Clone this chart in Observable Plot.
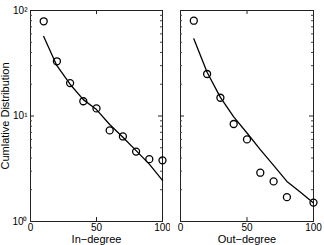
<!DOCTYPE html>
<html><head><meta charset="utf-8">
<script src="https://cdn.jsdelivr.net/npm/d3@7"></script>
<script src="https://cdn.jsdelivr.net/npm/@observablehq/plot@0.6"></script>
<style>
html,body{margin:0;padding:0;background:#fff;}
#wrap{display:flex;width:324px;height:245px;}
svg{display:block;}
</style></head>
<body><div id="wrap"></div>
<script>
const xTicks = [0, 50, 100];
const yTicks = [1, 10, 100];
const yTickLabels = ["10\u2070", "10\u00b9", "10\u00b2"];
const yMinor = [2,3,4,5,6,7,8,9,20,30,40,50,60,70,80,90];

const inDeg = [10,20,30,40,50,60,70,80,90,100];
const inObs = [79,33,20.5,13.8,11.8,7.3,6.4,4.6,3.9,3.8];
const inFitX = [10,20,30,40,50,60,70,80,90,100];
const inFit = [56.7,30,20,14.3,11.5,8.3,6.3,4.7,3.5,2.45];

const outDeg = [10,20,30,40,50,60,70,80,100];
const outObs = [80,25,14.9,8.4,6.0,2.9,2.4,1.7,1.51];
const outFitX = [10,20,30,40,50,60,70,80,90,100];
const outFit = [53.9,26,15,9.8,6.9,4.8,3.4,2.4,1.9,1.5];

const H = 245, MT = 10, MB = 24;
const FH = H - MT - MB;

function panel({width, marginLeft, marginRight, xs, ys, fx, fy, xLabel, showY}) {
  const FW = width - marginLeft - marginRight;
  const obs = xs.map((x, i) => ({x, y: ys[i]}));
  const fit = fx.map((x, i) => ({x, y: fy[i]}));
  const marks = [
    Plot.frame({stroke: "#222", strokeWidth: 1}),
    Plot.tickX(xTicks, {x: d => d, insetTop: FH - 4, stroke: "#222"}),
    Plot.tickX(xTicks, {x: d => d, insetBottom: FH - 4, stroke: "#222"}),
    Plot.tickY(yTicks, {y: d => d, insetRight: FW - 4, stroke: "#222"}),
    Plot.tickY(yTicks, {y: d => d, insetLeft: FW - 4, stroke: "#222"}),
    Plot.tickY(yMinor, {y: d => d, insetRight: FW - 2, stroke: "#444"}),
    Plot.tickY(yMinor, {y: d => d, insetLeft: FW - 2, stroke: "#444"}),
    Plot.line(fit, {x: "x", y: "y", stroke: "#000", strokeWidth: 1.3}),
    Plot.dot(obs, {x: "x", y: "y", r: 3.5, stroke: "#000", strokeWidth: 1.3, fill: "none"}),
    Plot.axisX({ticks: xTicks, tickSize: 0, tickPadding: 2, fontSize: 10, label: null}),
    Plot.axisX({ticks: [], tickSize: 0, label: xLabel, labelAnchor: "center", labelArrow: "none", labelOffset: 21, fontSize: 11})
  ];
  if (showY) {
    marks.push(Plot.axisY({ticks: yTicks, tickSize: 0, tickPadding: 3, fontSize: 10,
      tickFormat: d => yTickLabels[yTicks.indexOf(d)], label: null}));
    marks.push(Plot.axisY({ticks: [], tickSize: 0, label: "Cumlative Distribution", labelAnchor: "center", labelArrow: "none", labelOffset: 29, fontSize: 11}));
  } else {
    marks.push(Plot.axisY({ticks: [], label: null}));
  }
  return Plot.plot({
    width, height: H, marginLeft, marginRight, marginTop: MT, marginBottom: MB,
    style: {fontFamily: "'Liberation Sans', Arial, sans-serif", fontSize: "10px", color: "#000", background: "#fff"},
    x: {domain: [0, 100]},
    y: {type: "log", domain: [1, 100]},
    marks
  });
}

const wrap = document.getElementById("wrap");
wrap.append(panel({width: 170, marginLeft: 30, marginRight: 8, xs: inDeg, ys: inObs, fx: inFitX, fy: inFit, xLabel: "In\u2212degree", showY: true}));
wrap.append(panel({width: 154, marginLeft: 10, marginRight: 11, xs: outDeg, ys: outObs, fx: outFitX, fy: outFit, xLabel: "Out\u2212degree", showY: false}));
</script></body></html>
